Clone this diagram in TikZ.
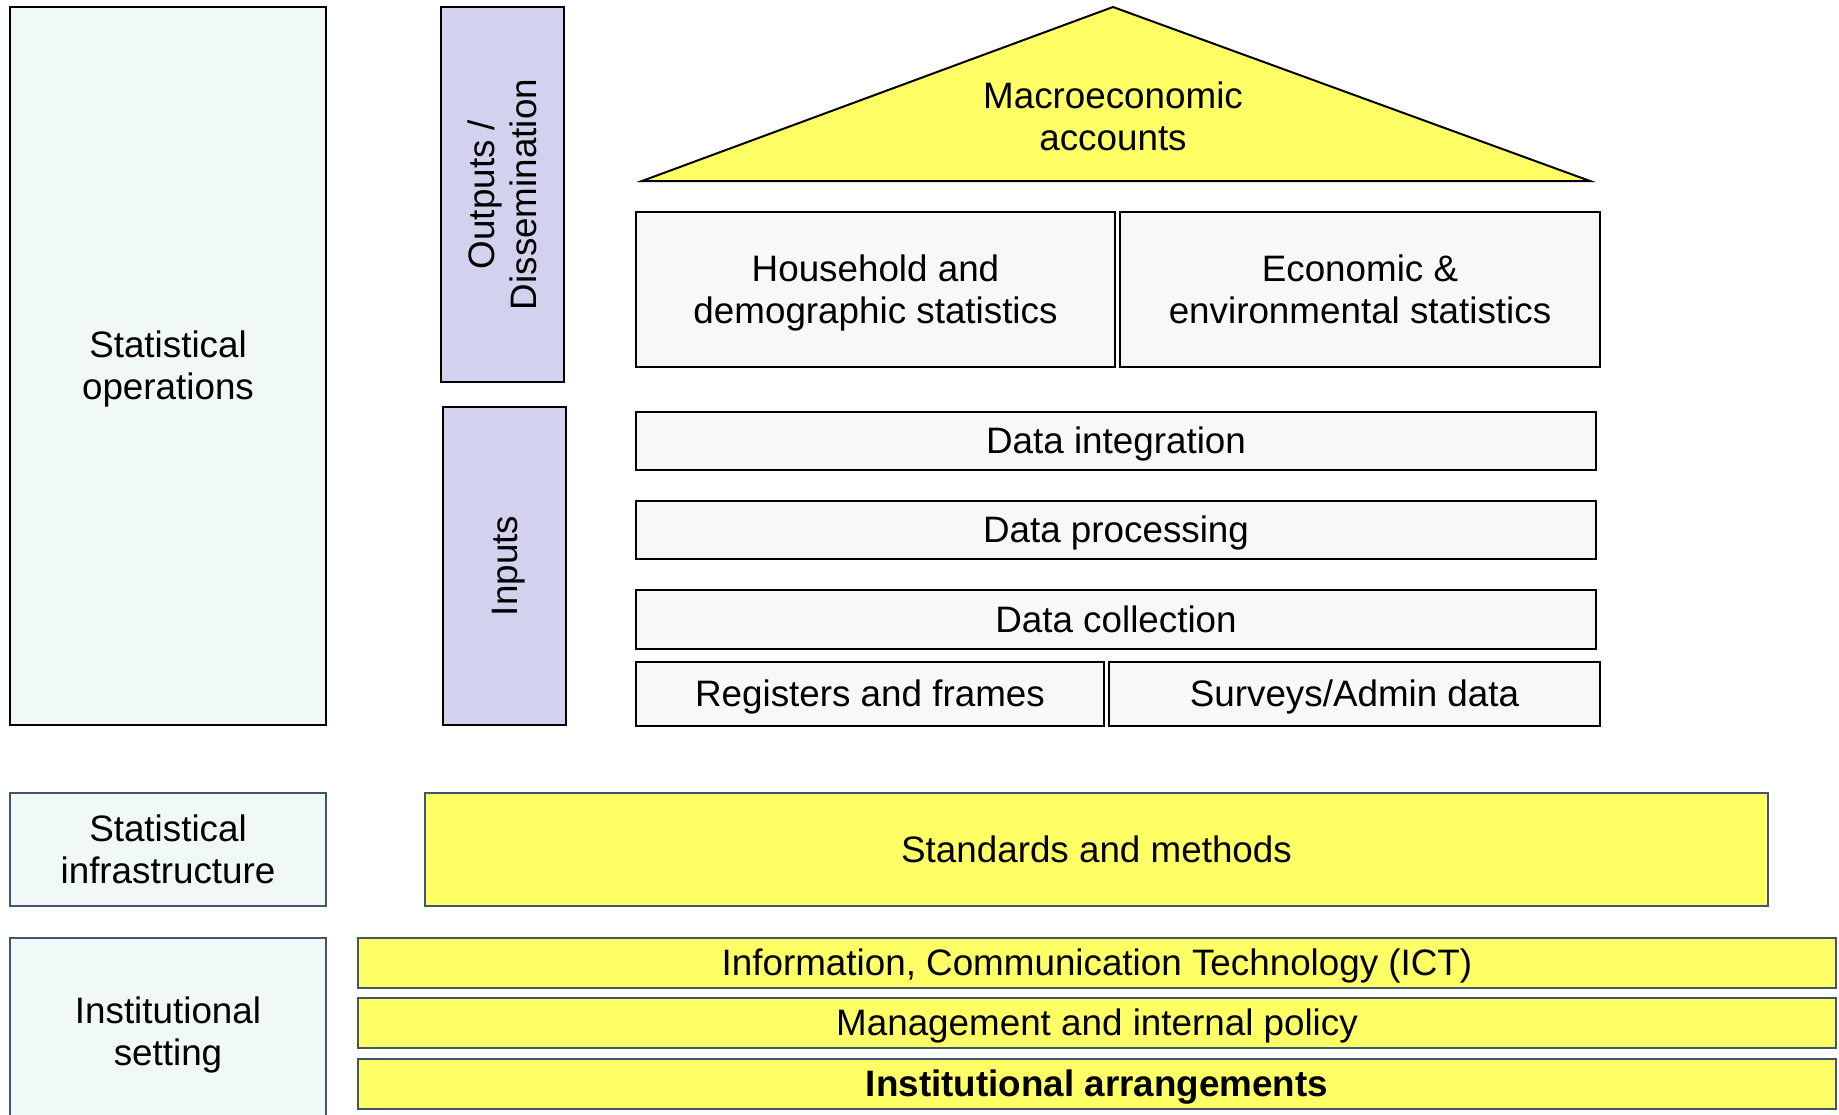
\documentclass[tikz,border=0pt]{standalone}
\usepackage{fontspec}
\setmainfont{Liberation Sans}
\usepackage{tikz}
\usetikzlibrary{arrows.meta}

\definecolor{sidefill}{HTML}{F0F8F8}
\definecolor{lavender}{HTML}{D2D2EF}
\definecolor{boxgrey}{HTML}{F8F8F8}
\definecolor{pillar}{HTML}{FFFF66}
\definecolor{slate}{HTML}{44546A}

\begin{document}
\begin{tikzpicture}[x=1pt,y=-1pt,
    font=\fontsize{36.8}{42.3}\selectfont,
    every node/.style={rectangle,align=center,inner sep=0pt},
    oneline/.style={text height=33.3pt,text depth=7.8pt},
    twoline/.style={text height=75.6pt,text depth=7.8pt}]
		\useasboundingbox (0,0) rectangle (1839,1114);

		% left column
		\begin{scope}[every node/.style={rectangle,align=center,inner sep=0pt,twoline,
		              draw=black,line width=2pt,fill=sidefill}]
		    \node[minimum width=316pt,minimum height=718pt] (statops) at (168,366) {Statistical\\operations};
		\end{scope}
		\begin{scope}[every node/.style={rectangle,align=center,inner sep=0pt,twoline,
		              draw=slate,line width=2.5pt,fill=sidefill}]
		    \node[minimum width=316pt,minimum height=113pt] (statinfra) at (168,849.5) {Statistical\\infrastructure};
		    \node[minimum width=316pt,minimum height=187pt] (instset) at (168,1031.5) {Institutional\\setting};
		\end{scope}

		% side labels
		\begin{scope}[every node/.style={rectangle,align=center,inner sep=0pt,
		              draw=black,line width=2pt,fill=lavender,rotate=90}]
		    \node[twoline,minimum width=375pt,minimum height=123pt] (outputs) at (502.5,194.5) {Outputs /\\Dissemination};
		    \node[oneline,minimum width=318pt,minimum height=123pt] (inputs) at (504.5,566) {Inputs};
		\end{scope}

		% roof
		\coordinate (roofl) at (642,181);
		\coordinate (rooft) at (1113,7);
		\coordinate (roofr) at (1590,181);
		\draw[fill=pillar,line width=2pt,line join=miter] (roofl) -- (rooft) -- (roofr) -- cycle;
		\node[twoline] (macro) at (1113,117) {Macroeconomic\\accounts};

		% house body
		\begin{scope}[every node/.style={rectangle,align=center,inner sep=0pt,oneline,
		              draw=black,line width=2pt,fill=boxgrey}]
		    \node[twoline,minimum width=479pt,minimum height=155pt] (household) at (875.5,289.5) {Household and\\demographic statistics};
		    \node[twoline,minimum width=480pt,minimum height=155pt] (economic) at (1360,289.5) {Economic \&\\environmental statistics};
		    \node[minimum width=960pt,minimum height=58pt] (dataint) at (1116,441) {Data integration};
		    \node[minimum width=960pt,minimum height=58pt] (dataproc) at (1116,530) {Data processing};
		    \node[minimum width=960pt,minimum height=59pt] (datacoll) at (1116,619.5) {Data collection};
		    \node[minimum width=468pt,minimum height=64pt] (registers) at (870,694) {Registers and frames};
		    \node[minimum width=491pt,minimum height=64pt] (surveys) at (1354.5,694) {Surveys/Admin data};
		\end{scope}

		% foundations
		\begin{scope}[every node/.style={rectangle,align=center,inner sep=0pt,oneline,
		              draw=slate,line width=2.5pt,fill=pillar}]
		    \node[minimum width=1343pt,minimum height=113pt] (standards) at (1096.5,849.5) {Standards and methods};
		    \node[minimum width=1478pt,minimum height=50pt] (ict) at (1097,963) {Information, Communication Technology (ICT)};
		    \node[minimum width=1478pt,minimum height=50pt] (mgmt) at (1097,1023) {Management and internal policy};
		    \node[minimum width=1478pt,minimum height=50pt] (instarr) at (1097,1084) {\bfseries Institutional arrangements};
		\end{scope}
		\end{tikzpicture}
\end{document}
